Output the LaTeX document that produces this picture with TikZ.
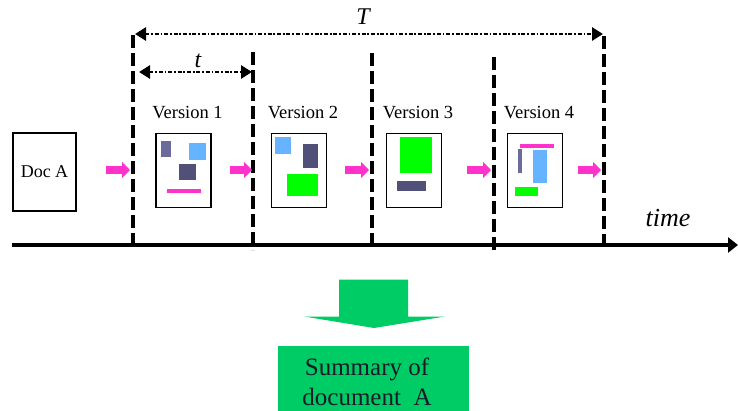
\documentclass[tikz,border=0pt]{standalone}
\usepackage{fontspec}
\setmainfont{Liberation Serif}
\usetikzlibrary{arrows.meta, positioning}

\definecolor{flowpink}{HTML}{FF33CC}
\definecolor{blockgreen}{HTML}{00FF00}
\definecolor{blockblue}{HTML}{66B3FF}
\definecolor{blockslate}{HTML}{505078}
\definecolor{blockmauve}{HTML}{6B6B9B}
\definecolor{sumgreen}{HTML}{00CC66}
\definecolor{inkdark}{HTML}{1A1A28}

\tikzset{
  cutline/.style={line width=3.6pt, dash pattern=on 13pt off 5pt},
  spanarrow/.style={line width=2.8pt, dash pattern=on 4pt off 1.8pt on 1.8pt off 1.8pt,
    {Triangle[length=11pt,width=13pt]}-{Triangle[length=11pt,width=13pt]}},
  flowarrow/.style={flowpink, line width=8pt, -{Triangle[length=8pt,width=16pt]}},
  docbox/.style={draw, line width=2.5pt, minimum width=63pt, minimum height=78pt,
    font=\fontsize{18}{20}\selectfont},
  pagebox/.style={draw, line width=1.2pt, minimum width=55pt, minimum height=74pt},
  verlabel/.style={font=\fontsize{18.5}{20}\selectfont},
}

\begin{document}
\begin{tikzpicture}[x=1pt, y=-1pt]
\useasboundingbox (0,0) rectangle (738,410);

% time axis
\coordinate (t0) at (12,245);
\coordinate (t1) at (738,245);
\draw[line width=4.5pt, -{Triangle[length=10pt,width=15pt]}] (t0) -- (t1);
\node[font=\fontsize{26}{28}\selectfont\itshape] (timelab) at (668,218) {time};

% version boundaries
\foreach \x/\top/\bot [count=\i] in {133/35/245, 253/52/250, 372/53/250, 494/57/250, 604/36/245} {
  \coordinate (up\i) at (\x,\top);
  \coordinate (dn\i) at (\x,\bot);
  \draw[cutline] (up\i) -- (dn\i);
}

% overall span T and step t
\coordinate (Ta) at (135,34);
\coordinate (Tb) at (603,34);
\draw[spanarrow] (Ta) -- (Tb);
\node[font=\fontsize{24}{26}\selectfont\itshape] (Tlab) at (363,17) {T};
\coordinate (ta) at (139,72);
\coordinate (tb) at (252,72);
\draw[spanarrow] (ta) -- (tb);
\node[font=\fontsize{24}{26}\selectfont\itshape] (tlab) at (198,61) {t};

% original document
\node[docbox] (docA) at (44.5,172) {Doc A};

% versions
\foreach \x [count=\i] in {183.5, 299, 414, 535} {
  \node[pagebox] (v\i) at (\x,170.5) {};
  \node[verlabel] (lab\i) at (\x+4,113) {Version \i};
}

% contents of version 1
\fill[blockmauve] (161,141) rectangle (171,157);
\fill[blockblue] (189,143) rectangle (205.5,160);
\fill[blockslate] (179,163.5) rectangle (195.5,180);
\fill[flowpink] (167,189) rectangle (201,193);
% contents of version 2
\fill[blockblue] (275,137) rectangle (290.5,154);
\fill[blockslate] (302.5,143.5) rectangle (317.5,167.5);
\fill[blockgreen] (287,173.5) rectangle (317.5,196);
% contents of version 3
\fill[blockgreen] (399.5,137) rectangle (431.5,172.5);
\fill[blockslate] (397,181) rectangle (426,190.5);
% contents of version 4
\fill[flowpink] (520,144) rectangle (554,147.5);
\fill[blockmauve] (517.5,148.5) rectangle (522,172.5);
\fill[blockblue] (533,150) rectangle (546.5,182.5);
\fill[blockgreen] (514.5,187) rectangle (538,196);

% flow between versions
\foreach \a/\b [count=\i] in {106/130, 230/252, 345/369, 467/491, 578/601} {
  \coordinate (fs\i) at (\a,170);
  \coordinate (fe\i) at (\b,170);
  \draw[flowarrow] (fs\i) -- (fe\i);
}

% summarising step
\fill[sumgreen] (339,279.5) -- (408,279.5) -- (408,316.5) -- (445,316.5)
  -- (374,328) -- (304,316.5) -- (339,316.5) -- cycle;
\node[fill=sumgreen, minimum width=191pt, minimum height=68pt, anchor=north,
  inner sep=0pt] (summary) at (373.5,346) {};
\node[text=inkdark, align=center, font=\fontsize{25}{30}\selectfont] (sumtext)
  at (367,382) {Summary of\\document\ \ A};
\end{tikzpicture}
\end{document}
